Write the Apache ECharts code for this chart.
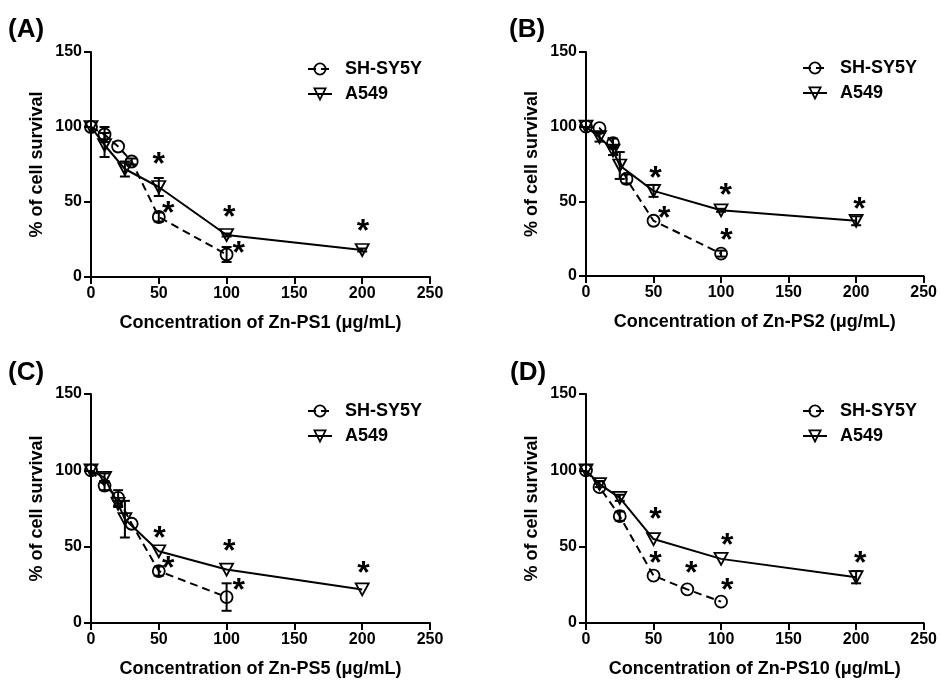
<!DOCTYPE html>
<html>
<head>
<meta charset="utf-8">
<script src="https://cdn.jsdelivr.net/npm/echarts@6/dist/echarts.min.js"></script>
<style>
  html, body { margin: 0; padding: 0; background: #fff; }
  #main { width: 940px; height: 681px; }
</style>
</head>
<body>
<div id="main"></div>
<script>
// panel texts
const panelLabels = ['(A)', '(B)', '(C)', '(D)'];
const xNames = [
    'Concentration of Zn-PS1 (μg/mL)',
    'Concentration of Zn-PS2 (μg/mL)',
    'Concentration of Zn-PS5 (μg/mL)',
    'Concentration of Zn-PS10 (μg/mL)'
];
const yName = '% of cell survival';
const legendNames = ['SH-SY5Y', 'A549'];

// SH-SY5Y (open circles, dashed)
const shConc = [
    [0, 10, 20, 30, 50, 100],
    [0, 10, 20, 30, 50, 100],
    [0, 10, 20, 30, 50, 100],
    [0, 10, 25, 50, 75, 100]
];
const shMean = [
    [100, 95, 87, 77, 40, 15],
    [100, 99, 89, 65, 37, 15],
    [100, 90, 82, 65, 34, 17],
    [100, 89, 70, 31, 22, 14]
];
const shErr = [
    [0, 5, 0, 2, 3, 5],
    [0, 0, 3, 3, 0, 2],
    [0, 3, 5, 0, 3, 9],
    [0, 0, 3, 0, 0, 0]
];

// A549 (open down triangles, solid)
const aConc = [
    [0, 10, 25, 50, 100, 200],
    [0, 10, 20, 25, 50, 100, 200],
    [0, 10, 20, 25, 50, 100, 200],
    [0, 10, 25, 50, 100, 200]
];
const aMean = [
    [100, 88, 72, 60, 28, 18],
    [100, 93, 84, 74, 57, 44, 37],
    [100, 95, 78, 68, 47, 35, 22],
    [100, 91, 82, 55, 42, 30]
];
const aErr = [
    [0, 8, 5, 6, 1, 1],
    [0, 3, 3, 9, 4, 1, 3],
    [0, 3, 2, 12, 0, 0, 0],
    [0, 2, 2, 0, 0, 4]
];

// significance asterisks [x, y]
const stars = [
    [[50, 78.5], [57, 46], [102, 43], [109, 19], [200.5, 34]],
    [[51.5, 69], [58, 42], [103.5, 57.5], [104, 27.5], [202.5, 48]],
    [[50.5, 59], [57, 39.5], [102, 50.5], [109, 25], [201, 35.7]],
    [[51.5, 71.5], [51.5, 42.5], [78, 36], [104.5, 54], [104.5, 25], [203, 42.5]]
];

const font = "'Liberation Sans', Arial, sans-serif";
const triPath = 'path://M0,0 L12,0 L6,11 Z';

const grids = [
    { left: 91, top: 52, width: 339, height: 225 },
    { left: 586, top: 52, width: 339, height: 224 },
    { left: 91, top: 394, width: 339, height: 229 },
    { left: 586, top: 394, width: 339, height: 229 }
];
const legendPos = [
    { left: 307, top: 60 },
    { left: 802, top: 59 },
    { left: 307, top: 402 },
    { left: 802, top: 402 }
];
const labelPos = [[8, 31], [509, 31], [8, 374], [510, 374]];

function pairs(xs, ys) {
    return xs.map(function (x, i) { return [x, ys[i]]; });
}

function errData(xs, ys, es) {
    const out = [];
    xs.forEach(function (x, i) {
        if (es[i]) out.push([x, ys[i] - es[i], ys[i] + es[i]]);
    });
    return out;
}

// vertical error bar with caps
function errRender(params, api) {
    const x = api.value(0);
    const p1 = api.coord([x, api.value(2)]);
    const p2 = api.coord([x, api.value(1)]);
    const st = { stroke: '#000', lineWidth: 2 };
    return {
        type: 'group',
        children: [
            { type: 'line', shape: { x1: p1[0], y1: p1[1], x2: p2[0], y2: p2[1] }, style: st },
            { type: 'line', shape: { x1: p1[0] - 5, y1: p1[1], x2: p1[0] + 5, y2: p1[1] }, style: st },
            { type: 'line', shape: { x1: p2[0] - 5, y1: p2[1], x2: p2[0] + 5, y2: p2[1] }, style: st }
        ]
    };
}

const axisCommon = {
    axisLine: { lineStyle: { color: '#000', width: 2 } },
    axisTick: { show: true, inside: false, length: 7, lineStyle: { color: '#000', width: 2 } },
    splitLine: { show: false },
    nameLocation: 'middle',
    nameTextStyle: { fontFamily: font, fontWeight: 'bold', fontSize: 18, color: '#000' }
};

const xAxis = [], yAxis = [], series = [], legend = [], graphic = [];

for (let p = 0; p < 4; p++) {
    xAxis.push(Object.assign({}, axisCommon, {
        type: 'value', gridIndex: p, min: 0, max: 250, interval: 50,
        name: xNames[p], nameGap: 37,
        axisLabel: { margin: 9, fontFamily: font, fontWeight: 'bold', fontSize: 16, color: '#000' }
    }));
    yAxis.push(Object.assign({}, axisCommon, {
        type: 'value', gridIndex: p, min: 0, max: 150, interval: 50,
        name: yName, nameGap: 45,
        axisLabel: { margin: 9, fontFamily: font, fontWeight: 'bold', fontSize: 16, color: '#000' }
    }));

    series.push({
        name: 'SH-SY5Y', type: 'line', xAxisIndex: p, yAxisIndex: p,
        data: pairs(shConc[p], shMean[p]),
        symbol: 'circle', symbolSize: 12,
        itemStyle: { color: 'transparent', borderColor: '#000', borderWidth: 1.8 },
        lineStyle: { color: '#000', width: 2, type: [8, 5] },
        z: 3
    });
    series.push({
        name: 'A549', type: 'line', xAxisIndex: p, yAxisIndex: p,
        data: pairs(aConc[p], aMean[p]),
        symbol: triPath, symbolSize: [13, 12],
        itemStyle: { color: 'transparent', borderColor: '#000', borderWidth: 1.8 },
        lineStyle: { color: '#000', width: 2 },
        z: 3
    });
    series.push({
        type: 'custom', xAxisIndex: p, yAxisIndex: p,
        data: errData(shConc[p], shMean[p], shErr[p]).concat(errData(aConc[p], aMean[p], aErr[p])),
        encode: { x: 0, y: [1, 2] },
        renderItem: errRender,
        silent: true, z: 2
    });
    series.push({
        type: 'scatter', xAxisIndex: p, yAxisIndex: p,
        data: stars[p], symbolSize: 1,
        itemStyle: { color: 'transparent', opacity: 1 },
        label: {
            show: true, position: 'inside', formatter: '*', offset: [0, 6],
            fontFamily: font, fontWeight: 'bold', fontSize: 32, color: '#000',
            textBorderWidth: 0, opacity: 1
        },
        silent: true, z: 4
    });

    legend.push({
        data: legendNames, orient: 'vertical',
        left: legendPos[p].left, top: legendPos[p].top,
        padding: 0,
        itemWidth: 24, itemHeight: 14, itemGap: 7,
        selectedMode: false,
        itemStyle: { color: 'transparent', borderColor: '#000', borderWidth: 1.8 },
        textStyle: { fontFamily: font, fontWeight: 'bold', fontSize: 18, color: '#000', padding: [0, 0, 0, 8] }
    });

    graphic.push({
        type: 'text', left: labelPos[p][0], top: labelPos[p][1] - 14,
        style: { text: panelLabels[p], font: 'bold 26px ' + font, fill: '#000' }
    });
}

const myChart = echarts.init(document.getElementById('main'), null, { renderer: 'canvas' });
myChart.setOption({
    backgroundColor: '#fff',
    animation: false,
    grid: grids,
    xAxis: xAxis,
    yAxis: yAxis,
    legend: legend,
    graphic: graphic,
    series: series
});
</script>
</body>
</html>
